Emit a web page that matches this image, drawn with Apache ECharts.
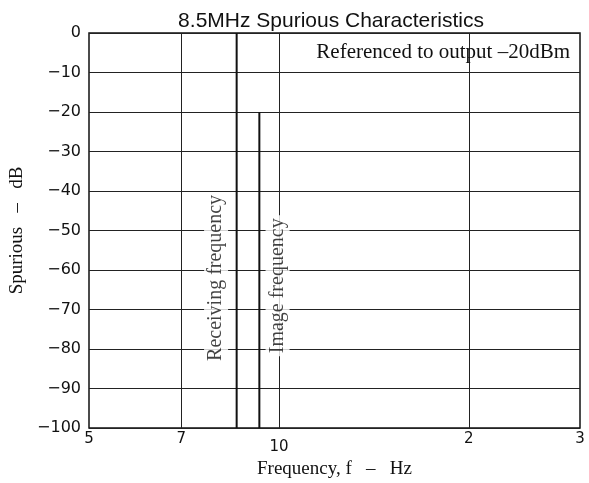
<!DOCTYPE html>
<html><head><meta charset="utf-8">
<script src="https://cdn.jsdelivr.net/npm/echarts@6/dist/echarts.min.js"></script>
<style>html,body{margin:0;padding:0;background:#fff}#c{width:589px;height:483px}</style>
</head><body><div id="c"></div>
<script>
const xTickValues = [5, 7, 10, 20, 30];
const xTickLabels = ['5', '7', '10', '2', '3'];
const gridXValues = [7, 10, 20];
const spikeFreqs = [8.57, 9.31];
const spikeTops = [0, -20];
const spikeBottom = -100;
const annotationNames = ['Receiving frequency', 'Image frequency'];

const chart = echarts.init(document.getElementById('c'), null, {renderer: 'canvas'});
const serif = '"Liberation Serif", "DejaVu Serif", serif';
const sans = '"Liberation Sans", Arial, sans-serif';
const tickFont = '"DejaVu Sans", sans-serif';

const spikeSeries = spikeFreqs.map((f, i) => ({
  type: 'line', symbol: 'none', silent: true, z: 5,
  data: [[f, spikeTops[i]], [f, spikeBottom]],
  lineStyle: {color: '#111', width: 2}
}));

const option = {
  animation: false,
  backgroundColor: '#fff',
  title: {
    text: '8.5MHz Spurious Characteristics', left: 326, textAlign: 'center', top: 6,
    textStyle: {fontFamily: sans, fontSize: 21, fontWeight: 'normal', color: '#111'}
  },
  graphic: [{
    type: 'text', right: 19, top: 42, z: 10,
    style: {text: 'Referenced to output \u201320dBm', font: '21px ' + serif, fill: '#111'}
  }],
  grid: {left: 89, right: 9, top: 33, bottom: 55, outerBoundsMode: 'none', containLabel: false,
    show: true, borderColor: '#111', borderWidth: 1.5, backgroundColor: 'transparent'},
  xAxis: {
    type: 'log', logBase: 10, min: 5, max: 30,
    name: 'Frequency, f   \u2013   Hz', nameLocation: 'middle', nameGap: 20,
    nameTextStyle: {fontFamily: serif, fontSize: 19, color: '#111'},
    axisLine: {show: false}, axisTick: {show: false}, splitLine: {show: false},
    axisLabel: {
      customValues: xTickValues,
      formatter: v => {
        const i = xTickValues.findIndex(t => Math.abs(t - v) < 1e-6);
        const s = i >= 0 ? xTickLabels[i] : '';
        return v === 10 ? '{low|' + s + '}' : s;
      },
      fontFamily: tickFont, fontSize: 15, color: '#111', margin: 4,
      rich: {low: {fontFamily: tickFont, fontSize: 15, color: '#111', padding: [8, 0, 0, 0]}}
    }
  },
  yAxis: {
    type: 'value', min: -100, max: 0, interval: 10,
    name: 'Spurious   \u2013   dB', nameLocation: 'middle', nameGap: 53,
    nameTextStyle: {fontFamily: serif, fontSize: 19, color: '#111'},
    axisLine: {show: false}, axisTick: {show: false},
    splitLine: {lineStyle: {color: '#222', width: 1}},
    axisLabel: {
      formatter: v => (v < 0 ? '\u2212' + Math.abs(v) : String(v)),
      fontFamily: tickFont, fontSize: 16, color: '#111', margin: 8
    }
  },
  series: [
    {
      type: 'line', data: [], silent: true,
      markLine: {
        silent: true, symbol: 'none', animation: false,
        label: {show: false},
        lineStyle: {color: '#222', width: 1, type: 'solid'},
        data: gridXValues.map(v => ({xAxis: v}))
      }
    },
    ...spikeSeries,
    {
      type: 'scatter', symbolSize: 0, silent: true, z: 8,
      data: [
        {name: annotationNames[0], value: [7.95, -62]},
        {name: annotationNames[1], value: [9.95, -64]}
      ],
      label: {
        show: true, position: 'inside', rotate: 90, formatter: p => p.name,
        fontFamily: serif, fontSize: 20, color: '#111',
        backgroundColor: '#fff', padding: [2, 3]
      }
    }
  ]
};
chart.setOption(option);
</script></body></html>
